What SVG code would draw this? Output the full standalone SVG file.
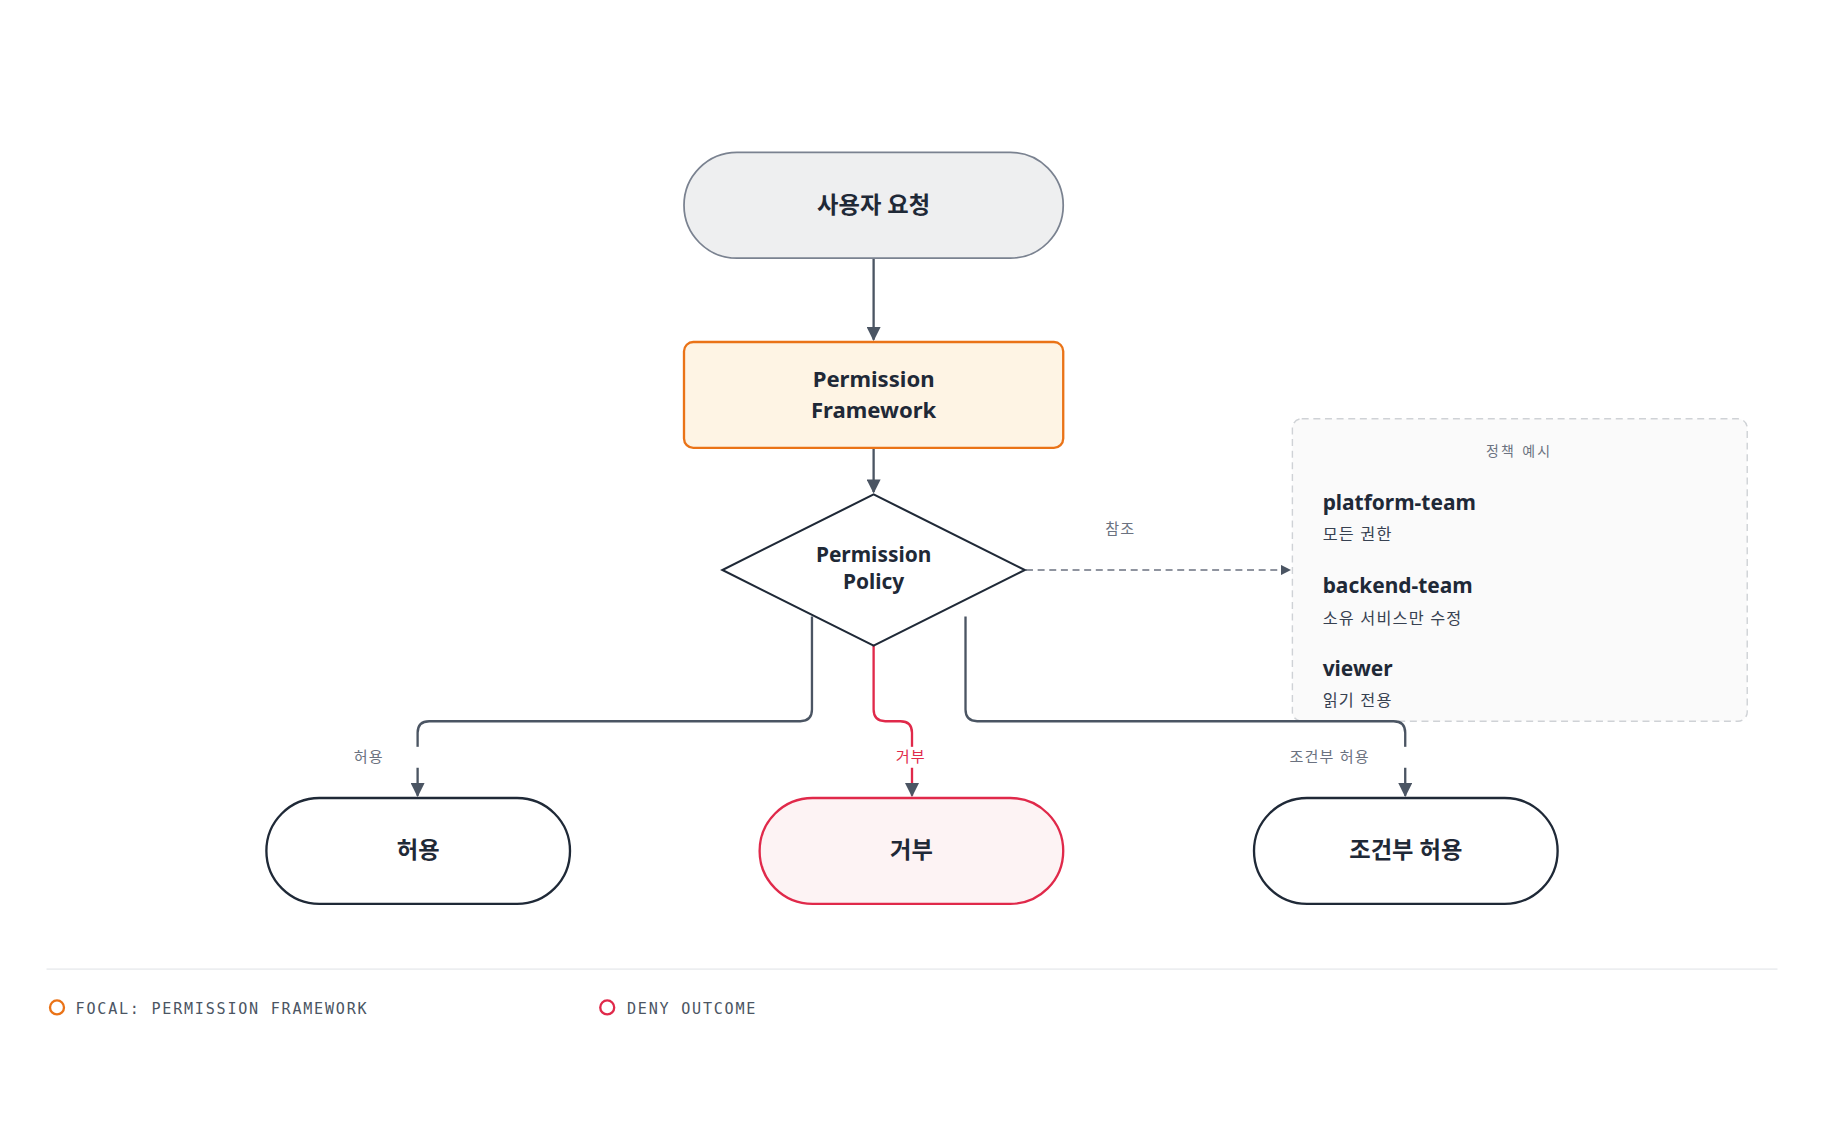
<svg xmlns="http://www.w3.org/2000/svg" width="1824" height="1140" viewBox="0 0 1824 1140">
<style>
text{font-family:"Noto Sans","Noto Sans CJK KR",sans-serif;fill:#1f2937}
.b{font-weight:700}
.c{text-anchor:middle}
.lbl{font-size:13px;fill:#6b7280;letter-spacing:1px}
.ln{fill:none;stroke:#4b5563;stroke-width:2}
.mono{font-family:"DejaVu Sans Mono","Liberation Mono",monospace;font-size:13px;fill:#4b5563;letter-spacing:1.5px}
</style>
<defs>
<marker id="a" viewBox="0 0 10 10" refX="9" refY="5" markerWidth="6" markerHeight="6" orient="auto"><path d="M0,0L10,5L0,10z" fill="#4b5563"/></marker>
<marker id="ar" viewBox="0 0 10 10" refX="9" refY="5" markerWidth="6" markerHeight="6" orient="auto"><path d="M0,0L10,5L0,10z" fill="#4b5563"/></marker>
</defs>
<rect width="1824" height="1140" fill="#fff"/>
<g transform="scale(1.16327)">
<g id="policy-box">
<rect x="1111" y="360" width="391" height="260" rx="8" fill="#fafafa" stroke="#cfd2d6" stroke-width="1.2" stroke-dasharray="6 4"/>
<text x="1306" y="392" class="c" style="font-size:12px;fill:#6b7280;letter-spacing:2px">정책 예시</text>
<text x="1137" y="438" class="b" style="font-size:18px">platform-team</text>
<text x="1137" y="464" style="font-size:14px;fill:#374151;letter-spacing:1px">모든 권한</text>
<text x="1137" y="510" class="b" style="font-size:18px">backend-team</text>
<text x="1137" y="536" style="font-size:14px;fill:#374151;letter-spacing:1px">소유 서비스만 수정</text>
<text x="1137" y="581" class="b" style="font-size:18px">viewer</text>
<text x="1137" y="607" style="font-size:14px;fill:#374151;letter-spacing:1px">읽기 전용</text>
</g>
<g id="connectors">
<path class="ln" d="M751,222V292" marker-end="url(#a)"/>
<path class="ln" d="M751,385V423" marker-end="url(#a)"/>
<path d="M882,490H1109" fill="none" stroke="#6b7280" stroke-width="1.5" stroke-dasharray="6 4" marker-end="url(#a)"/>
<path class="ln" d="M698,530V610Q698,620 688,620H369Q359,620 359,630V684" marker-end="url(#a)"/>
<path class="ln" d="M830,530V610Q830,620 840,620H1198Q1208,620 1208,630V684" marker-end="url(#a)"/>
<path d="M751,555V610Q751,620 761,620H774Q784,620 784,630V684" fill="none" stroke="#e0294a" stroke-width="2" marker-end="url(#ar)"/>
<rect x="300" y="642" width="65" height="18" fill="#fff"/>
<rect x="765" y="642" width="36" height="18" fill="#fff"/>
<rect x="1100" y="642" width="115" height="18" fill="#fff"/>
<text x="963" y="459" class="lbl c">참조</text>
<text x="317" y="655" class="lbl c">허용</text>
<text x="783" y="655" class="lbl c" style="fill:#e0294a">거부</text>
<text x="1143" y="655" class="lbl c">조건부 허용</text>
</g>
<g id="request">
<rect x="588" y="131" width="326" height="91" rx="45.5" fill="#eeeff0" stroke="#7a8290" stroke-width="1.5"/>
<text x="751" y="183" class="b c" style="font-size:20px">사용자 요청</text>
</g>
<g id="framework">
<rect x="588" y="294" width="326" height="91" rx="8" fill="#fef4e4" stroke="#ea7317" stroke-width="2"/>
<text x="751" y="333" class="b c" style="font-size:19px">Permission</text>
<text x="751" y="359" class="b c" style="font-size:19px">Framework</text>
</g>
<g id="policy">
<polygon points="751,425 881,490 751,555 621,490" fill="#fff" stroke="#1f2937" stroke-width="1.8"/>
<text x="751" y="483" class="b c" style="font-size:18px">Permission</text>
<text x="751" y="506" class="b c" style="font-size:18px">Policy</text>
</g>
<g id="allow">
<rect x="229" y="686" width="261" height="91" rx="45.5" fill="#fff" stroke="#1f2937" stroke-width="2"/>
<text x="359.5" y="738" class="b c" style="font-size:20px">허용</text>
</g>
<g id="deny">
<rect x="653" y="686" width="261" height="91" rx="45.5" fill="#fdf3f4" stroke="#e0294a" stroke-width="2"/>
<text x="783.5" y="738" class="b c" style="font-size:20px">거부</text>
</g>
<g id="conditional">
<rect x="1078" y="686" width="261" height="91" rx="45.5" fill="#fff" stroke="#1f2937" stroke-width="2"/>
<text x="1208.5" y="738" class="b c" style="font-size:20px">조건부 허용</text>
</g>
<g id="legend">
<line x1="40" y1="833" x2="1528" y2="833" stroke="#eceef0" stroke-width="1.5"/>
<circle cx="49" cy="866" r="6" fill="none" stroke="#ea7317" stroke-width="2"/>
<text x="65" y="872" class="mono">FOCAL: PERMISSION FRAMEWORK</text>
<circle cx="522" cy="866" r="6" fill="none" stroke="#e0294a" stroke-width="2"/>
<text x="539" y="872" class="mono">DENY OUTCOME</text>
</g>
</g>
</svg>
